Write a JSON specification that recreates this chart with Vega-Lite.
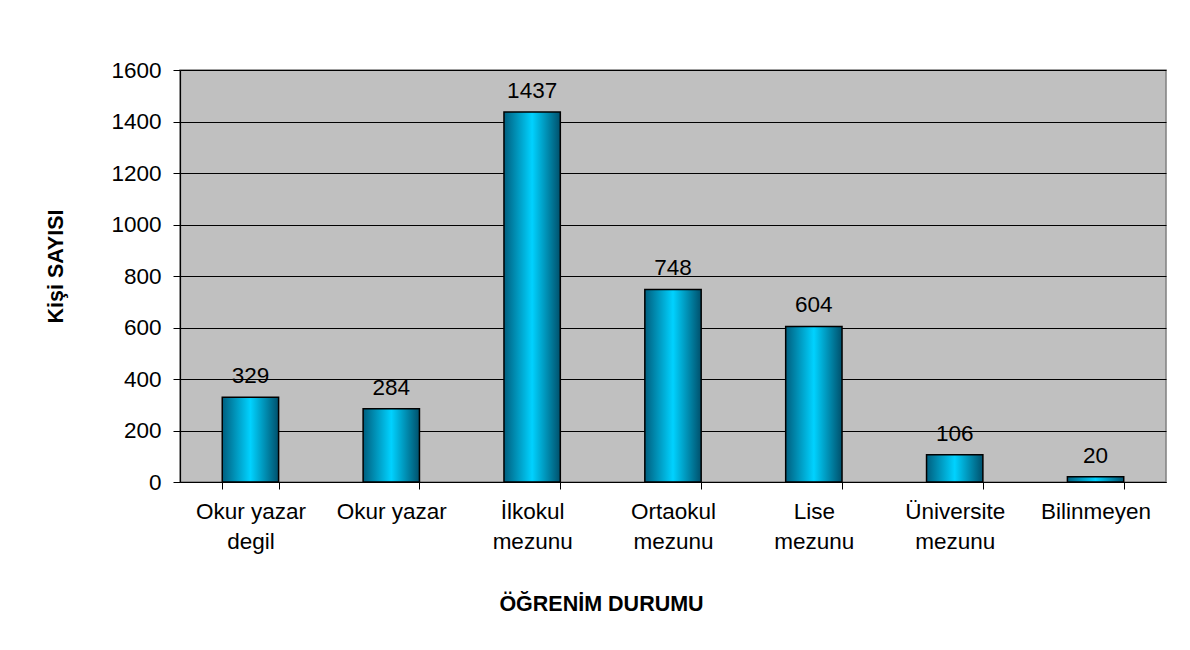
{
  "$schema": "https://vega.github.io/schema/vega-lite/v6.json",
  "width": 986,
  "height": 412,
  "autosize": {"type": "none"},
  "padding": {"left": 180, "top": 70, "right": 24, "bottom": 168},
  "background": "white",
  "data": {"values": [
    {"kategori": "Okur yazar|degil", "sayi": 329},
    {"kategori": "Okur yazar", "sayi": 284},
    {"kategori": "İlkokul|mezunu", "sayi": 1437},
    {"kategori": "Ortaokul|mezunu", "sayi": 748},
    {"kategori": "Lise|mezunu", "sayi": 604},
    {"kategori": "Üniversite|mezunu", "sayi": 106},
    {"kategori": "Bilinmeyen", "sayi": 20}
  ]},
  "config": {
    "font": "Liberation Sans",
    "view": {"fill": "#C0C0C0", "stroke": "#808080", "strokeWidth": 1.5},
    "axis": {"labelFont": "Liberation Sans", "titleFont": "Liberation Sans"}
  },
  "encoding": {
    "x": {
      "field": "kategori",
      "type": "nominal",
      "sort": null,
      "scale": {"paddingInner": 0.6, "paddingOuter": 0.3},
      "axis": {
        "title": "ÖĞRENİM DURUMU",
        "titleFontSize": 21.5,
        "titleFontWeight": "bold",
        "titleColor": "black",
        "titleX": 421,
        "titleY": 128,
        "titleAnchor": null,
        "titleAlign": "center",
        "titleBaseline": "alphabetic",
        "labelExpr": "split(datum.label, '|')",
        "labelAngle": 0,
        "labelFontSize": 22.5,
        "labelColor": "black",
        "labelLineHeight": 30,
        "labelPadding": 11,
        "labelBaseline": "top",
        "tickBand": "extent",
        "tickSize": 7,
        "tickColor": "black",
        "domainColor": "black",
        "domainWidth": 1.2,
        "grid": false
      }
    },
    "y": {
      "field": "sayi",
      "type": "quantitative",
      "scale": {"domain": [0, 1600], "nice": false},
      "axis": {
        "title": "Kişi SAYISI",
        "titleFontSize": 21.5,
        "titleFontWeight": "bold",
        "titleColor": "black",
        "titleAngle": 270,
        "titleX": -124,
        "titleY": 196,
        "titleAnchor": null,
        "titleAlign": "center",
        "titleBaseline": "middle",
        "values": [0, 200, 400, 600, 800, 1000, 1200, 1400, 1600],
        "format": "d",
        "labelFontSize": 22.5,
        "labelColor": "black",
        "labelPadding": 12,
        "tickSize": 7,
        "tickColor": "black",
        "domainColor": "black",
        "domainWidth": 1.2,
        "grid": true,
        "gridColor": "black",
        "gridWidth": 1
      }
    }
  },
  "layer": [
    {
      "mark": {
        "type": "bar",
        "stroke": "black",
        "strokeWidth": 1.5,
        "color": {
          "gradient": "linear",
          "x1": 0, "x2": 1, "y1": 0, "y2": 0,
          "stops": [
            {"offset": 0, "color": "#005f7f"},
            {"offset": 0.5, "color": "#00d2ff"},
            {"offset": 1, "color": "#00506c"}
          ]
        }
      }
    },
    {
      "mark": {"type": "text", "fontSize": 22.5, "color": "black", "baseline": "alphabetic", "dy": -14},
      "encoding": {"text": {"field": "sayi", "type": "quantitative", "format": "d"}}
    }
  ]
}
